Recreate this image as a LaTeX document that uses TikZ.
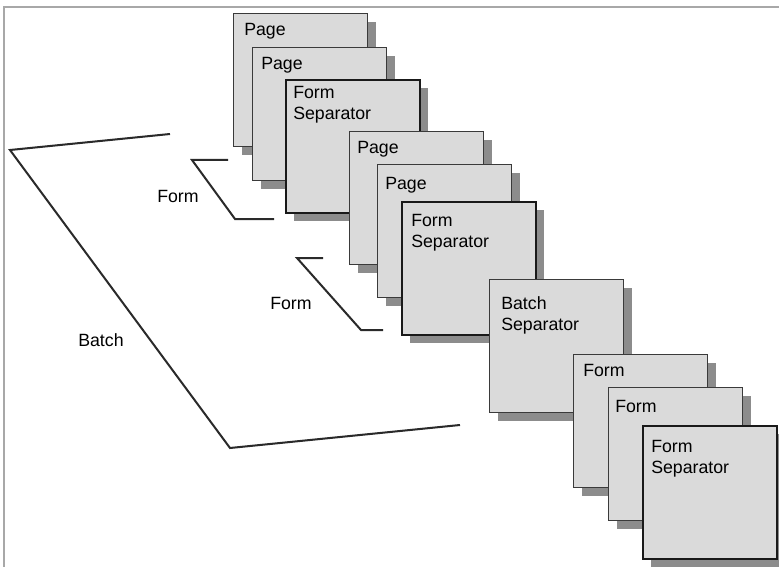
\documentclass[tikz,border=0pt]{standalone}
\usepackage{fontspec}
\setmainfont{Liberation Sans}
\usetikzlibrary{shadows}
\definecolor{cardfill}{HTML}{DADADA}
\definecolor{shadowc}{HTML}{8C8C8C}
\definecolor{framec}{HTML}{A8A8A8}
\definecolor{linec}{HTML}{2A2A2A}
\definecolor{edgec}{HTML}{3A3A3A}
\begin{document}
\begin{tikzpicture}[x=0.75pt,y=-0.75pt,
  card/.style={draw=edgec, line width=0.8pt, fill=cardfill, anchor=north west,
    inner sep=0pt, minimum width=100.5pt, minimum height=99.75pt,
    general shadow={fill=shadowc, shadow xshift=6pt, shadow yshift=-6pt}},
  sepcard/.style={card, draw=black!90, line width=1.3pt},
  lab/.style={anchor=north west, inner sep=0pt, align=left,
    font=\fontsize{13.3}{15.75}\selectfont},
  bracket/.style={draw=linec, line width=1.5pt, line join=miter}]
\useasboundingbox (0,0) rectangle (779,567);
% frame
\draw[framec, line width=0.9pt] (4,567) -- (4,7) -- (779,7);
% brackets
\coordinate (ba1) at (170,134);
\coordinate (ba2) at (10,150);
\coordinate (ba3) at (230,448);
\coordinate (ba4) at (460,425);
\draw[bracket] (ba1) -- (ba2) -- (ba3) -- (ba4);
\coordinate (fa1) at (228,160);
\coordinate (fa2) at (192,160);
\coordinate (fa3) at (235,219);
\coordinate (fa4) at (274,219);
\draw[bracket] (fa1) -- (fa2) -- (fa3) -- (fa4);
\coordinate (fb1) at (323,258);
\coordinate (fb2) at (297,258);
\coordinate (fb3) at (361,330);
\coordinate (fb4) at (383,330);
\draw[bracket] (fb1) -- (fb2) -- (fb3) -- (fb4);
\node[lab] (lform1) at (157,190) {Form};
\node[lab] (lform2) at (270,297) {Form};
\node[lab] (lbatch) at (78,333) {Batch};
% cards
\node[card] (c1) at (233,13) {};
\node[lab] (t1) at (244,23) {Page};
\node[card] (c2) at (252,47) {};
\node[lab] (t2) at (261,57) {Page};
\node[sepcard] (c3) at (285,79) {};
\node[lab] (t3) at (293,86) {Form\\Separator};
\node[card] (c4) at (349,131) {};
\node[lab] (t4) at (357,141) {Page};
\node[card] (c5) at (377,164) {};
\node[lab] (t5) at (385,177) {Page};
\node[sepcard] (c6) at (401,201) {};
\node[lab] (t6) at (411,214) {Form\\Separator};
\node[card] (c7) at (489,279) {};
\node[lab] (t7) at (501,296) {Batch\\Separator};
\node[card] (c8) at (573,354) {};
\node[lab] (t8) at (583,364) {Form};
\node[card] (c9) at (608,387) {};
\node[lab] (t9) at (615,400) {Form};
\node[sepcard] (c10) at (642,425) {};
\node[lab] (t10) at (651,440) {Form\\Separator};
\end{tikzpicture}
\end{document}
